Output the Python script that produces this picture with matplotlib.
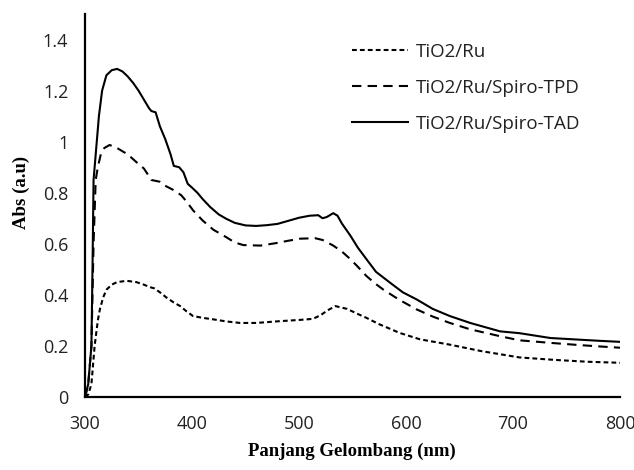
import matplotlib
matplotlib.use("Agg")
import matplotlib.pyplot as plt

# ---- data ----
wl_ru = [300, 303, 306, 309, 312, 314, 317, 320, 325, 330, 339, 348, 355, 361, 365, 370, 376, 383, 389, 395,
         401, 410, 420, 432, 445, 460, 482, 501, 513, 520, 527, 534, 545, 555, 563, 575, 594, 613, 641, 670,
         706, 740, 770, 800]
abs_ru = [0.0, 0.01, 0.05, 0.2, 0.3, 0.345, 0.39, 0.42, 0.44, 0.45, 0.455, 0.45, 0.44, 0.43, 0.425, 0.41, 0.39,
          0.37, 0.356, 0.335, 0.317, 0.31, 0.304, 0.296, 0.29, 0.29, 0.297, 0.302, 0.306, 0.32, 0.34, 0.356,
          0.345, 0.325, 0.31, 0.285, 0.251, 0.226, 0.205, 0.18, 0.155, 0.145, 0.138, 0.134]

wl_tpd = [300, 303, 306, 308, 310, 312, 315, 318, 323, 330, 340, 348, 355, 359, 362, 370, 376, 383, 390, 395,
          401, 410, 420, 432, 440, 448, 464, 479, 490, 501, 515, 522, 532, 540, 548, 555, 563, 571, 579, 594,
          610, 625, 641, 660, 688, 706, 735, 760, 781, 800]
abs_tpd = [0.0, 0.05, 0.2, 0.6, 0.85, 0.9, 0.955, 0.975, 0.987, 0.975, 0.95, 0.92, 0.895, 0.87, 0.85, 0.843,
           0.825, 0.81, 0.79, 0.765, 0.731, 0.691, 0.655, 0.626, 0.605, 0.595, 0.593, 0.603, 0.612, 0.62, 0.622,
           0.615, 0.593, 0.57, 0.54, 0.51, 0.474, 0.445, 0.42, 0.38, 0.343, 0.315, 0.29, 0.265, 0.238, 0.222,
           0.212, 0.204, 0.198, 0.193]

wl_tad = [300, 303, 306, 307, 308, 310, 313, 316, 320, 325, 330, 335, 340, 345, 350, 355, 360, 362, 366, 370,
          375, 380, 383, 388, 392, 396, 400, 405, 410, 417, 425, 432, 440, 450, 460, 470, 480, 490, 500, 510,
          518, 522, 526, 532, 536, 540, 548, 555, 563, 572, 585, 597, 610, 625, 641, 660, 688, 706, 735, 760,
          781, 800]
abs_tad = [0.0, 0.05, 0.2, 0.5, 0.85, 0.95, 1.1, 1.2, 1.26, 1.28, 1.285, 1.275, 1.255, 1.23, 1.2, 1.165, 1.13,
           1.12, 1.115, 1.06, 1.01, 0.95, 0.905, 0.9, 0.88, 0.835, 0.82, 0.8, 0.775, 0.744, 0.715, 0.698, 0.682,
           0.672, 0.67, 0.673, 0.678, 0.69, 0.702, 0.71, 0.712, 0.70, 0.705, 0.72, 0.71, 0.68, 0.632, 0.585,
           0.54, 0.49, 0.448, 0.41, 0.382, 0.345, 0.317, 0.29, 0.257, 0.25, 0.231, 0.225, 0.22, 0.216]

labels = ["TiO2/Ru", "TiO2/Ru/Spiro-TPD", "TiO2/Ru/Spiro-TAD"]
x_ticks = [300, 400, 500, 600, 700, 800]
y_ticks = [0, 0.2, 0.4, 0.6, 0.8, 1.0, 1.2, 1.4]
y_ticklabels = ["0", "0.2", "0.4", "0.6", "0.8", "1", "1.2", "1.4"]

# ---- figure ----
W, H = 634, 470
fig = plt.figure(figsize=(W / 100, H / 100), dpi=100)
ax_l, ax_r, ax_b, ax_t = 85, 620, 397, 14
ax = fig.add_axes([ax_l / W, 1 - ax_b / H, (ax_r - ax_l) / W, (ax_b - ax_t) / H])

lw = 1.5
ax.plot(wl_ru, abs_ru, color="black", lw=lw, dashes=(2.3, 1.5), label=labels[0])
ax.plot(wl_tpd, abs_tpd, color="black", lw=lw, dashes=(4.5, 3.0), label=labels[1])
ax.plot(wl_tad, abs_tad, color="black", lw=lw, label=labels[2])

ax.set_xlim(300, 800)
ax.set_ylim(0, 1.5)
ax.set_xticks(x_ticks)
ax.set_xticklabels([str(v) for v in x_ticks])
ax.set_yticks(y_ticks)
ax.set_yticklabels(y_ticklabels)

fam = ["Open Sans", "DejaVu Sans"]
for lab in ax.get_xticklabels() + ax.get_yticklabels():
    lab.set_fontfamily(fam)
    lab.set_fontsize(13)
    lab.set_color("#222222")
ax.tick_params(axis="y", length=0, pad=12)
ax.tick_params(axis="x", length=0, pad=13)

for side in ["top", "right"]:
    ax.spines[side].set_visible(False)
for side in ["left", "bottom"]:
    ax.spines[side].set_linewidth(1.6)
    ax.spines[side].set_color("black")

lab_font = dict(family=["Liberation Serif", "DejaVu Serif"], weight="bold", size=13.5)
ax.set_xlabel("Panjang Gelombang (nm)", fontdict=lab_font)
ax.set_ylabel("Abs (a.u)", fontdict=lab_font)
ax.xaxis.label.set_va("center")
ax.yaxis.label.set_va("center")
ax.xaxis.set_label_coords((352 - ax_l) / (ax_r - ax_l), (ax_b - 451) / (ax_b - ax_t))
ax.yaxis.set_label_coords((21 - ax_l) / (ax_r - ax_l), (ax_b - 192) / (ax_b - ax_t))

leg = fig.legend(loc="upper left", bbox_to_anchor=(352 / W, 1 - 43 / H), frameon=False,
                 borderpad=0, borderaxespad=0, handlelength=3.0, handletextpad=0.42,
                 labelspacing=0.95, prop={"family": fam, "size": 13.5})
for t in leg.get_texts():
    t.set_color("#222222")

fig.savefig("out.png", dpi=100)
